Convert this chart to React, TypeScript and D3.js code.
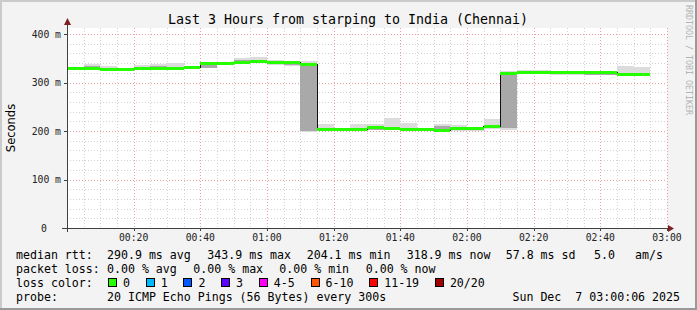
import React from 'react';
import * as d3 from 'd3';

// ---------- data ----------
const TITLE = 'Last 3 Hours from starping to India (Chennai)';
const STEP_SECONDS = 300;
const START = new Date(2025, 11, 7, 0, 0, 0);
const END = new Date(2025, 11, 7, 3, 0, 0);

// median RTT per 5-minute step (ms)
const median = [
  328, 328, 327, 327, 328, 328.5, 328, 330, 340, 340, 341.5, 343, 341, 342, 337,
  204, 204, 204, 206.5, 206, 203, 204, 202, 204.5, 204.5, 209.5,
  319.5, 320, 321.5, 320, 320, 320, 321, 317.5, 317.5,
];
// outer smoke (min / max ping)
const smokeLo = [
  326, 325, 325, 325, 326, 326, 326, 327, 330, 338, 339, 340, 336, 335, 198,
  201, 202, 201, 202, 203, 201, 202, 200, 201, 201, 205,
  203, 317, 318, 316, 315, 317, 315, 314, 314,
];
const smokeHi = [
  332, 339, 335, 329, 336, 339, 341, 334, 343, 342, 350, 352, 346, 345, 345,
  215, 206, 214, 214, 227, 216, 206, 214, 213, 209, 225,
  324, 326, 325, 323, 323, 323, 323, 333, 331,
];
// inner (denser) smoke
const coreLo = [
  328, 330, 327, 327, 328, 328, 328, 330, 330, 340, 341, 340, 338, 337, 201,
  203, 204, 204, 203, 205, 201, 204, 203, 202, 203, 206,
  207, 319, 320, 317, 318, 316, 316, 315, 316,
];
const coreHi = [
  331, 335, 329, 327, 331, 334, 330, 333, 342, 341, 347, 343, 343, 342, 340,
  206, 204, 206, 210, 207, 204, 204, 210, 206, 205, 210,
  318, 321, 323, 320, 320, 319, 320, 320, 319,
];

const yTicks = [0, 100, 200, 300, 400];
const yTickLabels = ['0', '100 m', '200 m', '300 m', '400 m'];
const xTickLabels = ['00:20', '00:40', '01:00', '01:20', '01:40', '02:00', '02:20', '02:40', '03:00'];

const rttLabel = 'median rtt:';
const rttStats = ['290.9 ms avg', '343.9 ms max', '204.1 ms min', '318.9 ms now', '57.8 ms sd', '5.0', 'am/s'];
const lossLabel = 'packet loss:';
const lossStats = ['0.00 % avg', '0.00 % max', '0.00 % min', '0.00 % now'];
const lossColorLabel = 'loss color:';
const lossLabels = ['0', '1', '2', '3', '4-5', '6-10', '11-19', '20/20'];
const lossColors = ['#26ff00', '#00b8ff', '#0059ff', '#5e00ff', '#ff00f6', '#ff5500', '#ff0000', '#a00000'];
const probeLabel = 'probe:';
const probeText = '20 ICMP Echo Pings (56 Bytes) every 300s';
const dateText = 'Sun Dec  7 03:00:06 2025';
const watermark = 'RRDTOOL / TOBI OETIKER';

// ---------- layout ----------
const W = 697, H = 310;
const L = 67, R = 667, T = 28, B = 228;
const MONO = '"DejaVu Sans Mono", monospace';
const SANS = '"DejaVu Sans", sans-serif';

const rttX = [107, 207.3, 306.7, 406.7, 505.7, 594, 635];
const lossX = [107, 193.3, 279.3, 365.7];

export default function App() {
  const x = d3.scaleTime().domain([START, END]).range([L, R]);
  const y = d3.scaleLinear().domain([0, 200 / 0.485]).range([B, T]);

  const times = median.map((_, i) => new Date(START.getTime() + i * STEP_SECONDS * 1000));
  const tEnd = (i: number) => new Date(START.getTime() + (i + 1) * STEP_SECONDS * 1000);

  // grid
  const minorV: Date[] = [];
  const majorV: Date[] = [];
  for (let m = 5; m <= 180; m += 5) {
    const d = new Date(START.getTime() + m * 60000);
    if (m % 20 === 0) majorV.push(d); else minorV.push(d);
  }
  const minorH: number[] = [];
  for (let v = 20; v <= 400; v += 20) if (v % 100 !== 0) minorH.push(v);
  const majorTicks = xTickLabels.map((_, i) => new Date(START.getTime() + (i + 1) * 20 * 60000));

  const pts: [Date, number][] = times.map((t, i) => [t, median[i]]);
  pts.push([tEnd(median.length - 1), median[median.length - 1]]);
  const stepLine = d3.line<[Date, number]>()
    .x(d => x(d[0]))
    .y(d => y(d[1]))
    .curve(d3.curveStepAfter);

  // loss legend positions
  const lossBoxes: { bx: number; label: string; color: string }[] = [];
  let bx = 108;
  lossLabels.forEach((lab, i) => {
    lossBoxes.push({ bx, label: lab, color: lossColors[i] });
    bx += 15 + lab.length * 7 + 15.7;
  });

  return (
    <svg width={W} height={H} style={{ position: 'absolute', left: 0, top: 0, display: 'block' }}
      xmlns="http://www.w3.org/2000/svg">
      {/* background & frame */}
      <rect x={0} y={0} width={W} height={H} fill="#f3f3f3" />
      <line x1={0} y1={1} x2={W} y2={1} stroke="#cbcbcb" strokeWidth={2} />
      <line x1={1} y1={0} x2={1} y2={H} stroke="#cbcbcb" strokeWidth={2} />
      <line x1={0} y1={H - 1} x2={W} y2={H - 1} stroke="#999" strokeWidth={2} />
      <line x1={W - 1} y1={0} x2={W - 1} y2={H} stroke="#999" strokeWidth={2} />

      {/* title */}
      <text x={348} y={24} textAnchor="middle" fontFamily={MONO} fontSize={13.3} fill="#000">{TITLE}</text>

      {/* watermark */}
      <text transform={`translate(685.5,5) rotate(90)`} fontFamily={MONO} fontSize={8.3} textLength={110}
        lengthAdjust="spacingAndGlyphs" fill="#b4b4b4">{watermark}</text>

      {/* y label */}
      <text transform={`translate(15,128) rotate(-90)`} textAnchor="middle" fontFamily={SANS} fontSize={11.5} fill="#000">Seconds</text>

      {/* canvas */}
      <rect x={L} y={T} width={R - L} height={B - T} fill="#fff" />

      {/* grid */}
      <g shapeRendering="crispEdges">
        {minorH.map(v => (
          <line key={'mh' + v} x1={L} x2={R} y1={Math.round(y(v)) + 0.5} y2={Math.round(y(v)) + 0.5}
            stroke="#d2d2d2" strokeDasharray="1,2" />
        ))}
        {minorV.map(d => (
          <line key={'mv' + d.getTime()} x1={Math.round(x(d)) + 0.5} x2={Math.round(x(d)) + 0.5} y1={T} y2={B}
            stroke="#d2d2d2" strokeDasharray="1,2" />
        ))}
        {yTicks.filter(v => v > 0).map(v => (
          <line key={'Mh' + v} x1={L} x2={R} y1={Math.round(y(v)) + 0.5} y2={Math.round(y(v)) + 0.5}
            stroke="#ee9e9e" strokeDasharray="1,2" />
        ))}
        {majorV.map(d => (
          <line key={'Mv' + d.getTime()} x1={Math.round(x(d)) + 0.5} x2={Math.round(x(d)) + 0.5} y1={T} y2={B}
            stroke="#ee9e9e" strokeDasharray="1,2" />
        ))}
      </g>

      {/* smoke */}
      <g shapeRendering="crispEdges">
        {median.map((_, i) => (
          <rect key={'so' + i} x={x(times[i])} width={x(tEnd(i)) - x(times[i])}
            y={y(smokeHi[i])} height={y(smokeLo[i]) - y(smokeHi[i])} fill="#dcdcdc" />
        ))}
        {median.map((_, i) => (
          <rect key={'sc' + i} x={x(times[i])} width={x(tEnd(i)) - x(times[i])}
            y={y(coreHi[i])} height={Math.max(0, y(coreLo[i]) - y(coreHi[i]))} fill="#a9a9a9" />
        ))}
      </g>

      {/* median line */}
      <path d={stepLine(pts) || ''} fill="none" stroke="#111" strokeWidth={1} shapeRendering="crispEdges" />
      <g shapeRendering="crispEdges">
        {median.map((m, i) => (
          <rect key={'g' + i} x={x(times[i])} width={x(tEnd(i)) - x(times[i])}
            y={y(m) - 1.5} height={3} fill={lossColors[0]} />
        ))}
      </g>

      {/* axes */}
      <g shapeRendering="crispEdges">
        <line x1={L + 0.5} x2={L + 0.5} y1={B + 4} y2={22} stroke="#404040" />
        <line x1={L - 5} x2={R + 3} y1={B + 0.5} y2={B + 0.5} stroke="#404040" />
        {yTicks.map(v => (
          <line key={'yt' + v} x1={L - 3} x2={L} y1={Math.round(y(v)) + 0.5} y2={Math.round(y(v)) + 0.5} stroke="#404040" />
        ))}
        {majorTicks.map(d => (
          <line key={'xt' + d.getTime()} x1={Math.round(x(d)) + 0.5} x2={Math.round(x(d)) + 0.5} y1={B} y2={B + 3} stroke="#404040" />
        ))}
      </g>
      <path d={`M${L - 3},${25} L${L + 0.5},${18} L${L + 4},${25} Z`} fill="#7f1f1f" />
      <path d={`M${R + 1},${B - 3} L${R + 7},${B + 0.5} L${R + 1},${B + 4} Z`} fill="#7f1f1f" />

      {/* tick labels */}
      {yTicks.map((v, i) => (
        v === 0 ? (
          <text key={'yl' + v} x={44} y={y(v) + 3.5} textAnchor="middle" fontFamily={MONO} fontSize={9.75} fill="#222">{yTickLabels[i]}</text>
        ) : (
          <text key={'yl' + v} x={61} y={y(v) + 3.5} textAnchor="end" fontFamily={MONO} fontSize={9.75} fill="#222">{yTickLabels[i]}</text>
        )
      ))}
      {majorTicks.map((d, i) => (
        <text key={'xl' + i} x={x(d)} y={241} textAnchor="middle" fontFamily={MONO} fontSize={9.75} fill="#222">{xTickLabels[i]}</text>
      ))}

      {/* legend */}
      <g fontFamily={MONO} fontSize={11.6} fill="#000" style={{ whiteSpace: 'pre' }}>
        <text x={16} y={258.5}>{rttLabel}</text>
        {rttStats.map((s, i) => <text key={'r' + i} x={rttX[i]} y={258.5}>{s}</text>)}
        <text x={16} y={272.5}>{lossLabel}</text>
        {lossStats.map((s, i) => <text key={'l' + i} x={lossX[i]} y={272.5}>{s}</text>)}
        <text x={16} y={286.5}>{lossColorLabel}</text>
        {lossBoxes.map((b, i) => (
          <g key={'lb' + i}>
            <rect x={b.bx + 0.5} y={278.5} width={8} height={8} fill={b.color} stroke="#000" strokeWidth={1} shapeRendering="crispEdges" />
            <text x={b.bx + 15} y={286.5}>{b.label}</text>
          </g>
        ))}
        <text x={16} y={300.5}>{probeLabel}</text>
        <text x={107} y={300.5}>{probeText}</text>
        <text x={680} y={300.5} textAnchor="end" xmlSpace="preserve">{dateText}</text>
      </g>
    </svg>
  );
}
